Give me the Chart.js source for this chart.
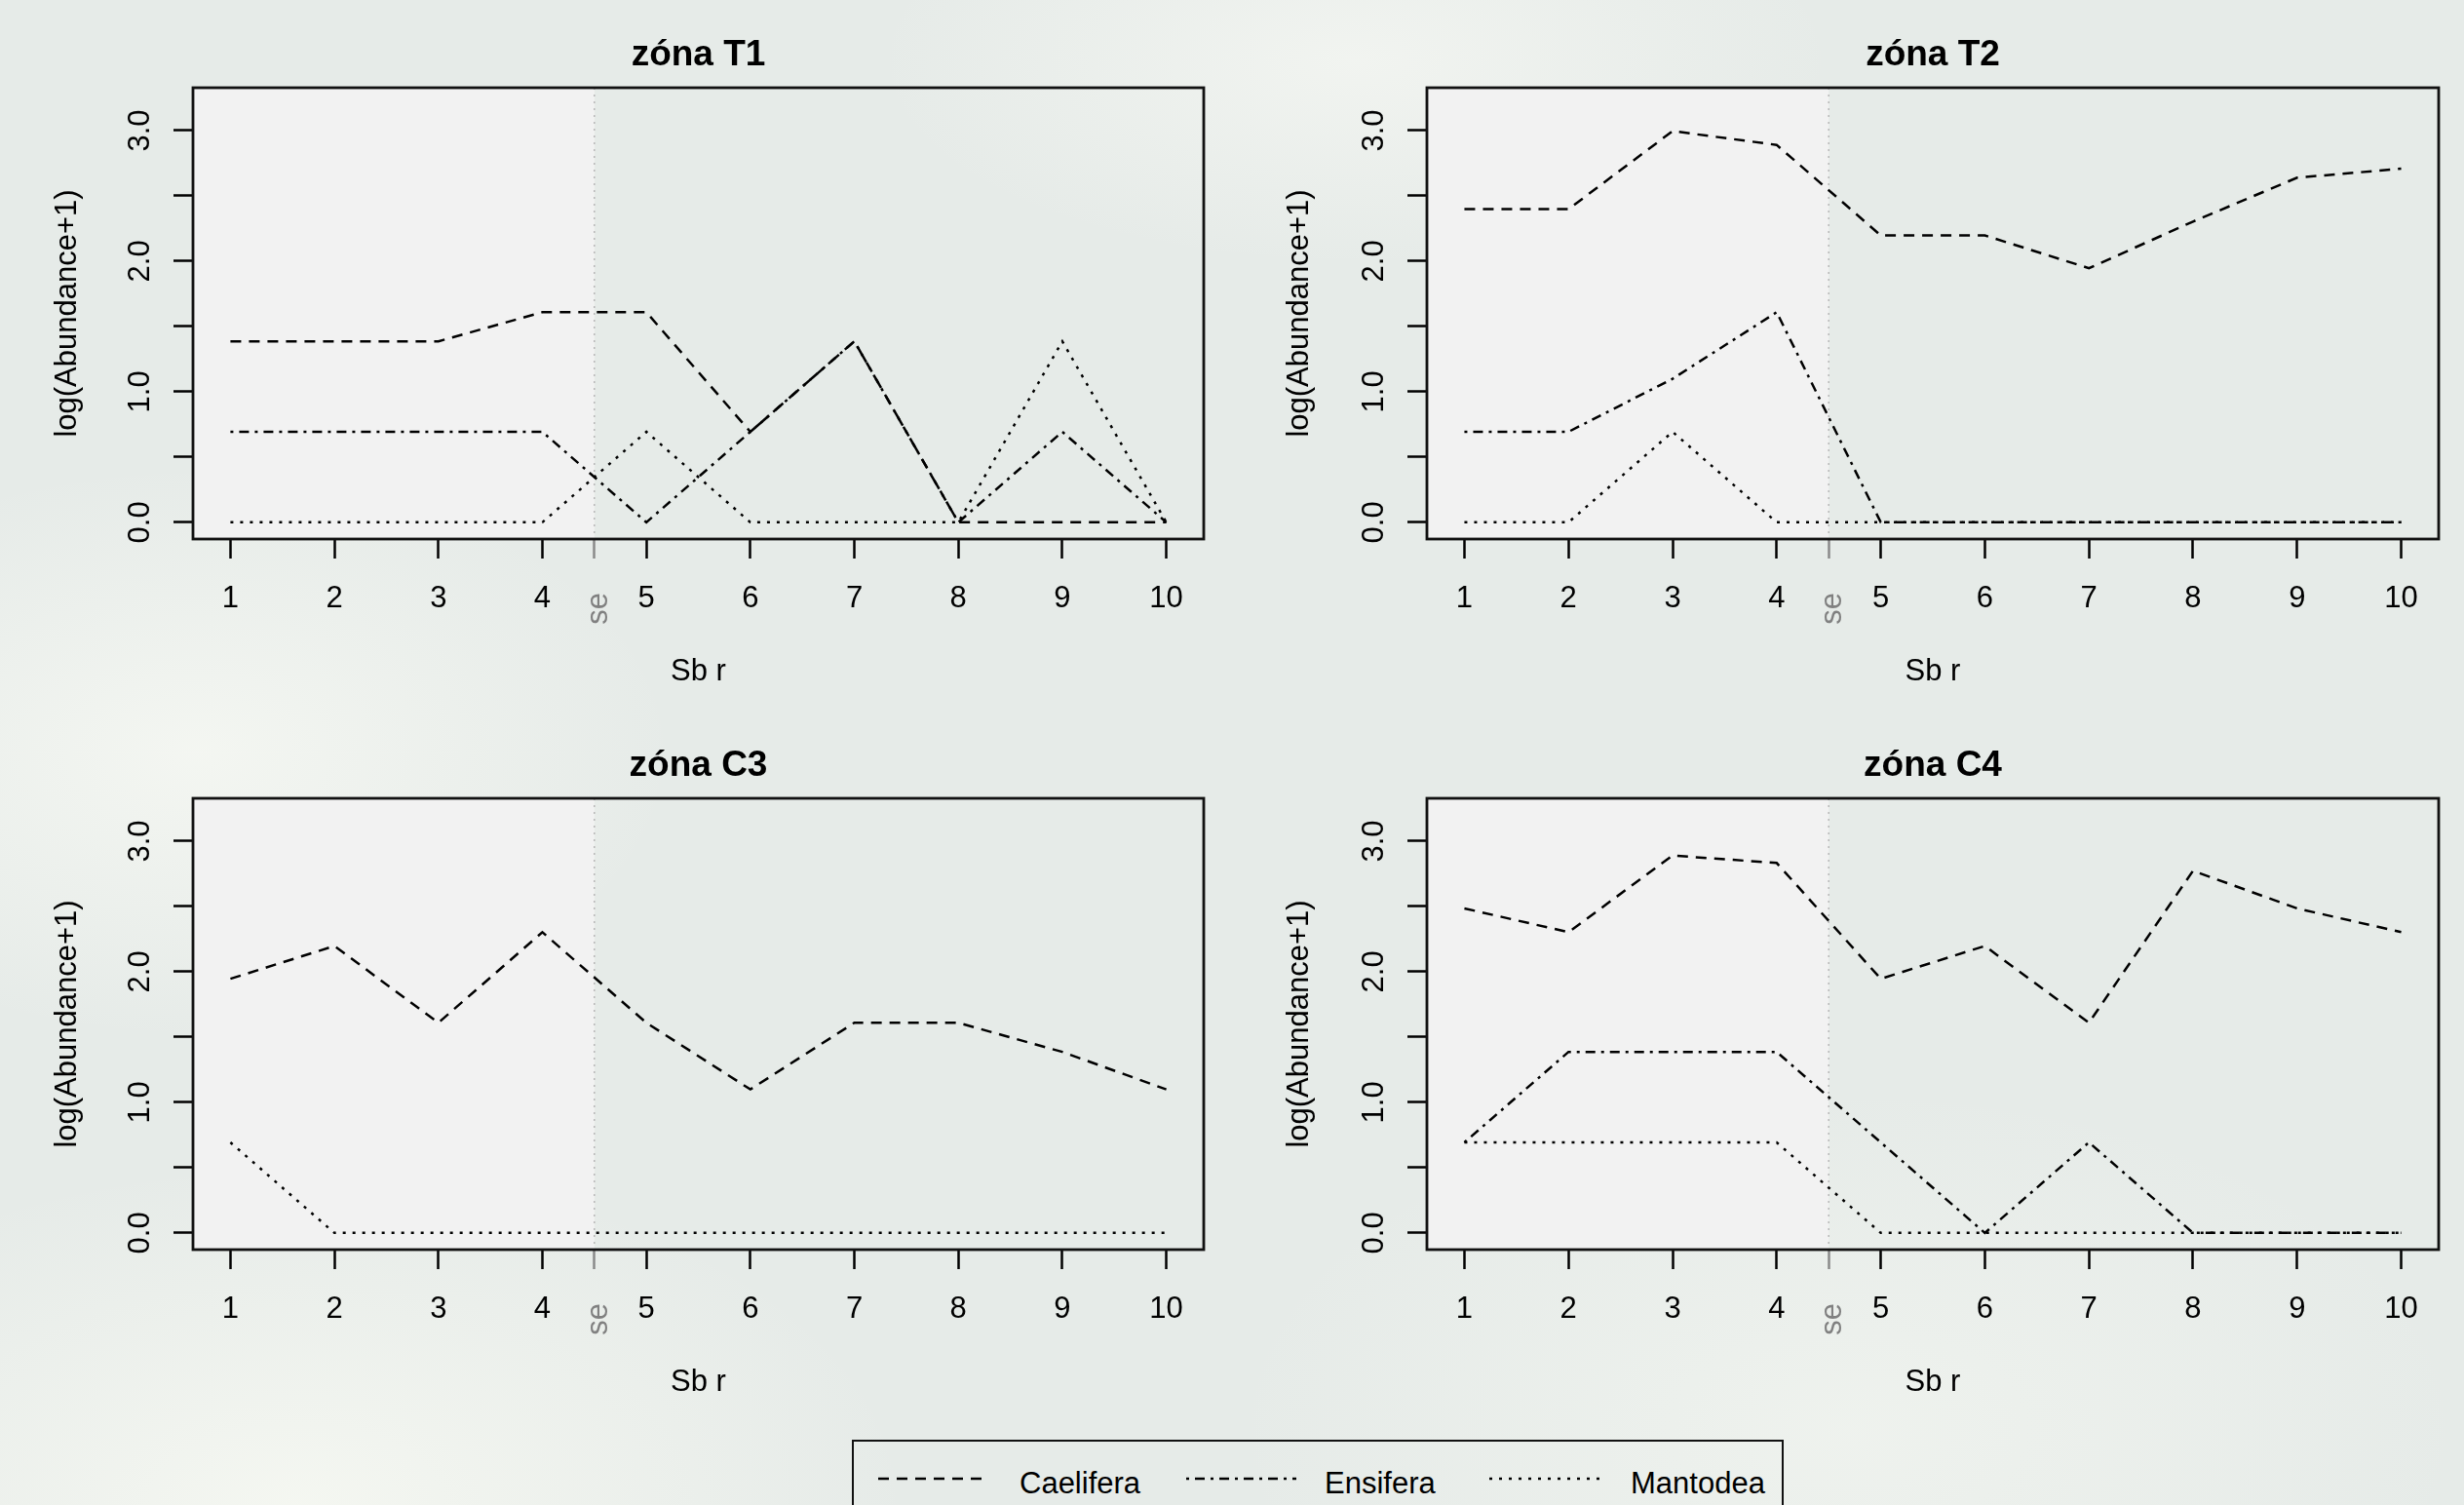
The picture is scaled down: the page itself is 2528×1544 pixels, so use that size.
<!DOCTYPE html>
<html>
<head>
<meta charset="utf-8">
<title>log(Abundance+1) – zóny T1, T2, C3, C4</title>
<script src="https://cdn.jsdelivr.net/npm/chart.js@4.4.1/dist/chart.umd.min.js"></script>
<style>
  html, body { margin: 0; padding: 0; }
  body {
    width: 2528px; height: 1544px; overflow: hidden; position: relative;
    font-family: "Liberation Sans", Arial, sans-serif;
    background:
      radial-gradient(ellipse 700px 420px at 8% 50%, rgba(246,248,243,0.85), rgba(246,248,243,0) 70%),
      radial-gradient(ellipse 900px 500px at 12% 100%, rgba(246,248,242,0.9), rgba(246,248,242,0) 70%),
      radial-gradient(ellipse 700px 300px at 55% 4%, rgba(244,246,242,0.8), rgba(244,246,242,0) 70%),
      radial-gradient(ellipse 900px 500px at 75% 95%, rgba(242,245,240,0.7), rgba(242,245,240,0) 70%),
      #e6ebe8;
  }
  canvas.panel { position: absolute; }
  #legend {
    position: absolute; left: 874px; top: 1477px; width: 956px; height: 120px;
    border: 2.5px solid #111; box-sizing: border-box;
  }
  .lg-text { position: absolute; font-size: 31px; line-height: 31px; color: #000; white-space: nowrap; }
  .lg-line { position: absolute; }
</style>
</head>
<body>
<canvas id="cT1" class="panel" width="1264" height="729" style="left:0;top:0"></canvas>
<canvas id="cT2" class="panel" width="1264" height="729" style="left:1264px;top:0"></canvas>
<canvas id="cC3" class="panel" width="1264" height="729" style="left:0;top:729px"></canvas>
<canvas id="cC4" class="panel" width="1264" height="729" style="left:1264px;top:729px"></canvas>
<div id="legend"></div>

<script>
// site numbers along the transect (x axis)
const sites = [1, 2, 3, 4, 5, 6, 7, 8, 9, 10];
const xTickValues = [1, 2, 3, 4, 4.5, 5, 6, 7, 8, 9, 10];
const yTickValues = [0, 0.5, 1, 1.5, 2, 2.5, 3];
const seBreak = 4.5;
const seLabel = 'se';
const seriesNames = ['Caelifera', 'Ensifera', 'Mantodea'];

// log(Abundance+1) per zone
const t1Caelifera = [1.386, 1.386, 1.386, 1.609, 1.609, 0.693, 1.386, 0, 0, 0];
const t1Ensifera = [0.693, 0.693, 0.693, 0.693, 0, 0.693, 1.386, 0, 0.693, 0];
const t1Mantodea = [0, 0, 0, 0, 0.693, 0, 0, 0, 1.386, 0];

const t2Caelifera = [2.398, 2.398, 2.996, 2.890, 2.197, 2.197, 1.946, 2.303, 2.639, 2.708];
const t2Ensifera = [0.693, 0.693, 1.099, 1.609, 0, 0, 0, 0, 0, 0];
const t2Mantodea = [0, 0, 0.693, 0, 0, 0, 0, 0, 0, 0];

const c3Caelifera = [1.946, 2.197, 1.609, 2.303, 1.609, 1.099, 1.609, 1.609, 1.386, 1.099];
const c3Ensifera = [null, null, null, null, null, null, null, null, null, null];
const c3Mantodea = [0.693, 0, 0, 0, 0, 0, 0, 0, 0, 0];

const c4Caelifera = [2.485, 2.303, 2.890, 2.833, 1.946, 2.197, 1.609, 2.773, 2.485, 2.303];
const c4Ensifera = [0.693, 1.386, 1.386, 1.386, 0.693, 0, 0.693, 0, 0, 0];
const c4Mantodea = [0.693, 0.693, 0.693, 0.693, 0, 0, 0, 0, 0, 0];

// R-like line types: lty 2, 4, 3
const dashes = [[11, 8], [3, 6, 10, 6], [3, 7]];

const FONT = '"Liberation Sans", Arial, sans-serif';
Chart.defaults.font.family = FONT;
Chart.defaults.color = '#000';

const panelDecor = {
  id: 'panelDecor',
  beforeDatasetsDraw(chart) {
    const { ctx, chartArea: a, scales: { x } } = chart;
    const px = x.getPixelForValue(seBreak);
    ctx.save();
    ctx.fillStyle = '#f2f2f2';
    ctx.fillRect(a.left, a.top, px - a.left, a.bottom - a.top);
    ctx.strokeStyle = '#b8b8b8';
    ctx.lineWidth = 1.5;
    ctx.setLineDash([2, 5]);
    ctx.beginPath();
    ctx.moveTo(px, a.top);
    ctx.lineTo(px, a.bottom);
    ctx.stroke();
    ctx.restore();
  },
  afterDraw(chart) {
    const { ctx, chartArea: a, scales: { x } } = chart;
    const px = x.getPixelForValue(seBreak);
    ctx.save();
    ctx.strokeStyle = '#111';
    ctx.lineWidth = 2.8;
    ctx.strokeRect(a.left, a.top, a.right - a.left, a.bottom - a.top);
    ctx.fillStyle = '#808080';
    ctx.font = '31px ' + FONT;
    ctx.translate(px + 13, a.bottom + 55);
    ctx.rotate(-Math.PI / 2);
    ctx.textAlign = 'right';
    ctx.textBaseline = 'alphabetic';
    ctx.fillText(seLabel, 0, 0);
    ctx.restore();
  }
};

function makePanel(id, title, series, yWidth, rightPad) {
  const toPts = vals => sites.map((s, i) => ({ x: s, y: vals[i] }));
  return new Chart(document.getElementById(id), {
    type: 'line',
    data: {
      datasets: series.map((vals, i) => ({
        label: seriesNames[i],
        data: toPts(vals),
        borderDash: dashes[i],
        borderColor: '#000',
        borderWidth: 2.5,
        pointRadius: 0,
        tension: 0,
        fill: false,
        spanGaps: false
      }))
    },
    options: {
      responsive: false,
      animation: false,
      devicePixelRatio: 1,
      layout: { padding: { left: 0, right: rightPad, top: 0, bottom: 0 } },
      plugins: {
        legend: { display: false },
        tooltip: { enabled: false },
        title: {
          display: true, text: title, fullSize: false, color: '#000',
          font: { size: 37, weight: 'bold' },
          padding: { top: 35, bottom: 10.6 }
        }
      },
      scales: {
        x: {
          type: 'linear', min: 0.64, max: 10.36,
          afterBuildTicks: s => { s.ticks = xTickValues.map(v => ({ value: v })); },
          afterFit: s => { s.height = 176; },
          border: { display: false },
          grid: {
            drawOnChartArea: false, drawTicks: true, tickLength: 20, tickWidth: 2.5,
            tickColor: c => (c.tick && c.tick.value === seBreak ? '#8a8a8a' : '#000')
          },
          ticks: {
            autoSkip: false, maxRotation: 0, minRotation: 0, padding: 23,
            font: { size: 31 }, color: '#000',
            callback: v => (v === seBreak ? '' : String(v))
          },
          title: { display: true, text: 'Sb r', color: '#000', font: { size: 31 }, padding: { top: 0, bottom: 21 } }
        },
        y: {
          type: 'linear', min: -0.128, max: 3.328,
          afterBuildTicks: s => { s.ticks = yTickValues.map(v => ({ value: v })); },
          afterFit: s => { s.width = yWidth; },
          border: { display: false },
          grid: { drawOnChartArea: false, drawTicks: true, tickLength: 20, tickWidth: 2.5, tickColor: '#000' },
          ticks: {
            minRotation: 90, maxRotation: 90, crossAlign: 'center', padding: 12,
            font: { size: 31 }, color: '#000',
            callback: v => (Number.isInteger(v) ? v.toFixed(1) : '')
          },
          title: { display: true, text: 'log(Abundance+1)', color: '#000', font: { size: 31 }, padding: { top: 51, bottom: 0 } }
        }
      }
    },
    plugins: [panelDecor]
  });
}

makePanel('cT1', 'zóna T1', [t1Caelifera, t1Ensifera, t1Mantodea], 198, 29);
makePanel('cT2', 'zóna T2', [t2Caelifera, t2Ensifera, t2Mantodea], 200, 26);
makePanel('cC3', 'zóna C3', [c3Caelifera, c3Ensifera, c3Mantodea], 198, 29);
makePanel('cC4', 'zóna C4', [c4Caelifera, c4Ensifera, c4Mantodea], 200, 26);

// legend below the panels
const legendLineX = [901, 1217, 1528];
const legendTextX = [1046, 1359, 1673];
seriesNames.forEach((name, i) => {
  const svgNS = 'http://www.w3.org/2000/svg';
  const svg = document.createElementNS(svgNS, 'svg');
  svg.setAttribute('class', 'lg-line');
  svg.setAttribute('width', '113');
  svg.setAttribute('height', '10');
  svg.style.left = legendLineX[i] + 'px';
  svg.style.top = '1512px';
  const ln = document.createElementNS(svgNS, 'line');
  ln.setAttribute('x1', '0'); ln.setAttribute('x2', '113');
  ln.setAttribute('y1', '5'); ln.setAttribute('y2', '5');
  ln.setAttribute('stroke', '#000');
  ln.setAttribute('stroke-width', '2.5');
  ln.setAttribute('stroke-dasharray', dashes[i].join(' '));
  svg.appendChild(ln);
  document.body.appendChild(svg);
  const t = document.createElement('span');
  t.className = 'lg-text';
  t.textContent = name;
  t.style.left = legendTextX[i] + 'px';
  t.style.top = '1506px';
  document.body.appendChild(t);
});
</script>
</body>
</html>
